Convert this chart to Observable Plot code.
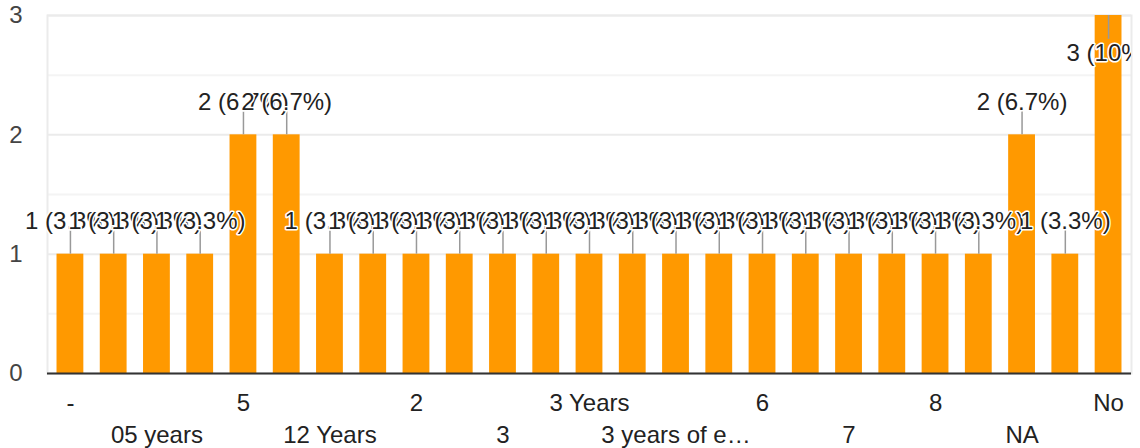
<!DOCTYPE html>
<html>
<head>
<meta charset="utf-8">
<script src="https://cdn.jsdelivr.net/npm/d3@7"></script>
<script src="https://cdn.jsdelivr.net/npm/@observablehq/plot@0.6"></script>
<style>
  html, body { margin: 0; padding: 0; background: #fff; }
  #chart svg { display: block; overflow: visible; }
</style>
</head>
<body>
<div id="chart"></div>
<script>
// Categories (answers) in display order
const categories = [
  "-", "0", "05 years", "1 year", "5", "10", "12 Years", "15 years",
  "2", "2 years", "3", "3 yrs", "3 Years", "3.5 years", "3 years of e…", "4",
  "6", "6 years", "7", "7 years", "8", "8 years", "NA", "Nil", "No"
];
// Response counts
const counts = [
  1, 1, 1, 1, 2, 2, 1, 1,
  1, 1, 1, 1, 1, 1, 1, 1,
  1, 1, 1, 1, 1, 1, 2, 1, 3
];
// Tick labels shown on the x axis (two staggered rows)
const tickLabelsTop = ["-", "5", "2", "3 Years", "6", "8", "No"];
const tickLabelsBottom = ["05 years", "12 Years", "3", "3 years of e…", "7", "NA"];
const yTicks = [0, 1, 2, 3];
const yMinorTicks = [0.5, 1.5, 2.5];

const total = d3.sum(counts);
const data = categories.map((c, i) => ({category: c, value: counts[i]}));
const maxV = d3.max(counts);
const label = d => `${d.value} (${Math.round(d.value / total * 1000) / 10}%)`;
const leader = 0.2; // leader line length in value units

const chart = Plot.plot({
  width: 1140,
  height: 448,
  marginLeft: 47,
  marginRight: 9,
  marginTop: 15,
  marginBottom: 75,
  style: {fontFamily: "'Liberation Sans', Arial, sans-serif", fontSize: "24px", color: "#222", background: "#fff"},
  x: {domain: categories, paddingInner: 0.38, paddingOuter: 0.22, round: false, axis: null, label: null},
  y: {domain: [0, 3], axis: null, label: null},
  marks: [
    Plot.gridY(yMinorTicks, {stroke: "#f4f4f4", strokeOpacity: 1, strokeWidth: 2}),
    Plot.gridY(yTicks, {stroke: "#ebebeb", strokeOpacity: 1, strokeWidth: 2}),
    Plot.frame({stroke: "#ebebeb", strokeWidth: 2}),
    Plot.barY(data, {x: "category", y: "value", fill: "#ff9900"}),
    Plot.ruleY([0], {stroke: "#333", strokeWidth: 2}),
    Plot.ruleX(data, {
      x: "category",
      y1: "value",
      y2: d => d.value === maxV ? d.value - leader : d.value + leader,
      stroke: "#999",
      strokeWidth: 1.5
    }),
    Plot.text(data.filter(d => d.value !== maxV), {
      x: "category", y: "value", text: label, dy: -33,
      fill: "#222", stroke: "white", strokeWidth: 3, paintOrder: "stroke", strokeLinejoin: "round"
    }),
    Plot.text(data.filter(d => d.value === maxV), {
      x: "category", y: "value", text: label, dy: 38,
      fill: "#222", stroke: "white", strokeWidth: 3, paintOrder: "stroke", strokeLinejoin: "round",
      clip: true
    }),
    Plot.axisY({ticks: yTicks, tickSize: 0, tickPadding: 25, fill: "#444", label: null, tickFormat: d3.format("d")}),
    Plot.axisX({ticks: tickLabelsTop, tickSize: 0, tickPadding: 20, fill: "#222", label: null}),
    Plot.axisX({ticks: tickLabelsBottom, tickSize: 0, tickPadding: 52, fill: "#222", label: null})
  ]
});
document.getElementById("chart").appendChild(chart);
</script>
</body>
</html>
